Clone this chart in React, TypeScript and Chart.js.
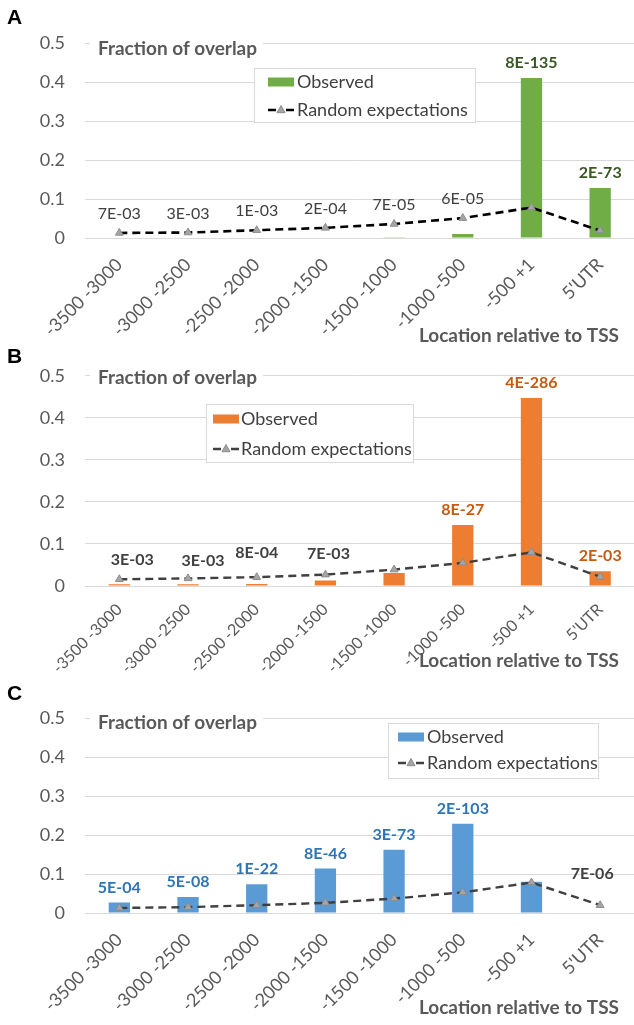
import React, { useEffect, useRef } from "react";
import { Chart, registerables } from "chart.js";

Chart.register(...registerables);

// ---------- data ----------
const categories = [
  "-3500 -3000",
  "-3000 -2500",
  "-2500 -2000",
  "-2000 -1500",
  "-1500 -1000",
  "-1000 -500",
  "-500 +1",
  "5'UTR",
];

const observedA = [0, 0, 0, 0, 0.002, 0.01, 0.41, 0.128];
const randomA = [0.013, 0.014, 0.02, 0.026, 0.036, 0.051, 0.078, 0.019];
const pValuesA = ["7E-03", "3E-03", "1E-03", "2E-04", "7E-05", "6E-05", "8E-135", "2E-73"];

const observedB = [0.004, 0.004, 0.005, 0.013, 0.031, 0.145, 0.447, 0.035];
const randomB = [0.016, 0.018, 0.021, 0.027, 0.039, 0.055, 0.08, 0.022];
const pValuesB = ["3E-03", "3E-03", "8E-04", "7E-03", "", "8E-27", "4E-286", "2E-03"];

const observedC = [0.027, 0.041, 0.074, 0.114, 0.162, 0.229, 0.08, 0];
const randomC = [0.013, 0.015, 0.02, 0.026, 0.037, 0.053, 0.078, 0.02];
const pValuesC = ["5E-04", "5E-08", "1E-22", "8E-46", "3E-73", "2E-103", "", "7E-06"];

const yMin = 0;
const yMax = 0.5;
const yStep = 0.1;

const seriesNames = ["Observed", "Random expectations"];
const yTitle = "Fraction of overlap";
const xTitle = "Location relative to TSS";

// ---------- styling / layout ----------
const FONT = "Lato, 'Open Sans', sans-serif";
const GRAY = "#595959";
const DARK = "#404040";

type PanelCfg = {
  letter: string;
  top: number;
  height: number;
  areaTop: number;
  areaBottom: number;
  barColor: string;
  lineColor: string;
  lineWidth: number;
  obs: number[];
  rnd: number[];
  pv: string[];
  labelColor: (i: number) => string;
  labelBold: (i: number) => boolean;
  nudge: (i: number) => [number, number];
  legend: { x: number; y: number; w: number; h: number; r1: number; r2: number; sw: number; tx: number };
  letterY: number;
  titleY: number;
  xTitleY: number;
  xTickSize: number;
  xTickPad: number;
};

const panels: PanelCfg[] = [
  {
    letter: "A",
    top: 0,
    height: 345,
    areaTop: 43,
    areaBottom: 238,
    barColor: "#70AD47",
    lineColor: "#000000",
    lineWidth: 2.6,
    obs: observedA,
    rnd: randomA,
    pv: pValuesA,
    labelColor: (i) => (i >= 6 ? "#385723" : DARK),
    labelBold: (i) => i >= 6,
    nudge: () => [0, 0],
    legend: { x: 254, y: 68, w: 221, h: 54, r1: 82, r2: 110, sw: 268, tx: 297 },
    letterY: 24,
    titleY: 49,
    xTitleY: 336,
    xTickSize: 18,
    xTickPad: 8,
  },
  {
    letter: "B",
    top: 345,
    height: 340,
    areaTop: 372,
    areaBottom: 586,
    barColor: "#ED7D31",
    lineColor: "#404040",
    lineWidth: 2.4,
    obs: observedB,
    rnd: randomB,
    pv: pValuesB,
    labelColor: (i) => (i >= 5 ? "#C55A11" : DARK),
    labelBold: () => true,
    nudge: (i) => ([[13, 0], [15, 1], [0, -5], [3, -2]][i] as [number, number]) || [0, 0],
    legend: { x: 206, y: 404, w: 207, h: 58, r1: 419, r2: 449, sw: 213, tx: 241 },
    letterY: 363,
    titleY: 378,
    xTitleY: 661,
    xTickSize: 16,
    xTickPad: 6,
  },
  {
    letter: "C",
    top: 685,
    height: 340,
    areaTop: 718,
    areaBottom: 913,
    barColor: "#5B9BD5",
    lineColor: "#404040",
    lineWidth: 2.4,
    obs: observedC,
    rnd: randomC,
    pv: pValuesC,
    labelColor: (i) => (i === 7 ? DARK : "#2E75B6"),
    labelBold: () => true,
    nudge: (i) => (i === 7 ? [-8, -12] : [0, 0]),
    legend: { x: 388, y: 723, w: 210, h: 55, r1: 737, r2: 763, sw: 398, tx: 427 },
    letterY: 700,
    titleY: 723,
    xTitleY: 1008,
    xTickSize: 18,
    xTickPad: 8,
  },
];

function drawTriangle(ctx: CanvasRenderingContext2D, x: number, y: number, r: number) {
  ctx.save();
  ctx.beginPath();
  ctx.moveTo(x, y - r);
  ctx.lineTo(x + r * 0.9, y + r * 0.6);
  ctx.lineTo(x - r * 0.9, y + r * 0.6);
  ctx.closePath();
  ctx.fillStyle = "#A5A5A5";
  ctx.strokeStyle = "#8C8C8C";
  ctx.lineWidth = 1;
  ctx.setLineDash([]);
  ctx.fill();
  ctx.stroke();
  ctx.restore();
}

function makeOverlay(p: PanelCfg) {
  return {
    id: "overlay" + p.letter,
    afterDraw(chart: any) {
      const ctx: CanvasRenderingContext2D = chart.ctx;
      const xs = chart.scales.x;
      const ys = chart.scales.y;
      const off = p.top;
      ctx.save();

      // panel letter
      ctx.font = `bold 21px 'Liberation Sans', Arial, sans-serif`;
      ctx.fillStyle = "#000";
      ctx.textAlign = "left";
      ctx.textBaseline = "alphabetic";
      ctx.fillText(p.letter, 7, p.letterY - off);

      // y title with white background
      ctx.font = `bold 19px ${FONT}`;
      const tw = ctx.measureText(yTitle).width;
      ctx.fillStyle = "#fff";
      ctx.fillRect(90, p.titleY - off - 11, tw + 14, 22);
      ctx.fillStyle = GRAY;
      ctx.textBaseline = "middle";
      ctx.fillText(yTitle, 98, p.titleY - off);

      // x title
      ctx.font = `bold 19px ${FONT}`;
      ctx.textAlign = "right";
      ctx.fillStyle = GRAY;
      ctx.fillText(xTitle, 619, p.xTitleY - off);

      // legend
      const L = p.legend;
      ctx.fillStyle = "#fff";
      ctx.fillRect(L.x, L.y - off, L.w, L.h);
      ctx.strokeStyle = "#D9D9D9";
      ctx.lineWidth = 1;
      ctx.strokeRect(L.x + 0.5, L.y - off + 0.5, L.w, L.h);
      ctx.fillStyle = p.barColor;
      ctx.fillRect(L.sw, L.r1 - off - 4.5, 26, 9);
      ctx.strokeStyle = p.lineColor;
      ctx.lineWidth = 2.4;
      ctx.beginPath();
      ctx.moveTo(L.sw, L.r2 - off);
      ctx.lineTo(L.sw + 8, L.r2 - off);
      ctx.moveTo(L.sw + 18, L.r2 - off);
      ctx.lineTo(L.sw + 26, L.r2 - off);
      ctx.stroke();
      drawTriangle(ctx, L.sw + 13, L.r2 - off, 4.5);
      ctx.font = `18px ${FONT}`;
      ctx.fillStyle = DARK;
      ctx.textAlign = "left";
      ctx.textBaseline = "middle";
      ctx.fillText(seriesNames[0], L.tx, L.r1 - off);
      ctx.fillText(seriesNames[1], L.tx, L.r2 - off);

      // data labels (p-values)
      ctx.textAlign = "center";
      ctx.textBaseline = "middle";
      p.pv.forEach((t, i) => {
        if (!t) return;
        const xb = xs.getPixelForValue(i);
        const yBar = ys.getPixelForValue(p.obs[i]);
        const yLine = ys.getPixelForValue(p.rnd[i]);
        const barHigher = yBar < yLine;
        const [dx, dy] = p.nudge(i);
        const y = (barHigher ? yBar - 15 : yLine - 19) + dy;
        ctx.font = `${p.labelBold(i) ? "bold " : ""}16px ${FONT}`;
        ctx.fillStyle = p.labelColor(i);
        ctx.fillText(t, xb + dx, y);
      });
      ctx.restore();
    },
  };
}

function Panel({ p }: { p: PanelCfg }) {
  const ref = useRef<HTMLCanvasElement | null>(null);
  useEffect(() => {
    if (!ref.current) return;
    const chart = new Chart(ref.current, {
      data: {
        labels: categories,
        datasets: [
          {
            type: "line",
            label: seriesNames[1],
            data: p.rnd,
            borderColor: p.lineColor,
            borderWidth: p.lineWidth,
            borderDash: [8, 5],
            tension: 0,
            pointStyle: "triangle",
            pointRadius: 4.5,
            pointBackgroundColor: "#A5A5A5",
            pointBorderColor: "#8C8C8C",
            pointBorderWidth: 1,
            order: 1,
          } as any,
          {
            type: "bar",
            label: seriesNames[0],
            data: p.obs,
            backgroundColor: p.barColor,
            barPercentage: 0.31,
            categoryPercentage: 1,
            order: 2,
          } as any,
        ],
      },
      options: {
        responsive: false,
        animation: false,
        devicePixelRatio: 1,
        layout: { padding: { top: p.areaTop - p.top, left: 0, right: 2, bottom: 0 } },
        plugins: { legend: { display: false }, tooltip: { enabled: false } },
        scales: {
          x: {
            type: "category",
            offset: true,
            grid: { display: false },
            border: { display: false },
            ticks: {
              autoSkip: false,
              minRotation: 45,
              maxRotation: 45,
              padding: p.xTickPad,
              color: GRAY,
              font: { family: FONT, size: p.xTickSize },
            },
            afterFit: (s: any) => {
              s.height = p.top + p.height - p.areaBottom;
            },
          },
          y: {
            min: yMin,
            max: yMax,
            grid: { color: "#D9D9D9", drawTicks: false, lineWidth: 1 },
            border: { display: false },
            ticks: {
              stepSize: yStep,
              padding: 20,
              color: GRAY,
              font: { family: FONT, size: 18 },
            },
            afterFit: (s: any) => {
              s.width = 85;
            },
          },
        },
      } as any,
      plugins: [makeOverlay(p)],
    } as any);
    return () => chart.destroy();
  }, [p]);
  return (
    <canvas
      ref={ref}
      width={640}
      height={p.height}
      style={{ position: "absolute", left: 0, top: p.top, width: 640, height: p.height }}
    />
  );
}

export default function App() {
  return (
    <div
      style={{
        position: "absolute",
        left: 0,
        top: 0,
        width: 634,
        height: 1025,
        overflow: "hidden",
        background: "#fff",
      }}
    >
      {panels.map((p) => (
        <Panel key={p.letter} p={p} />
      ))}
    </div>
  );
}
